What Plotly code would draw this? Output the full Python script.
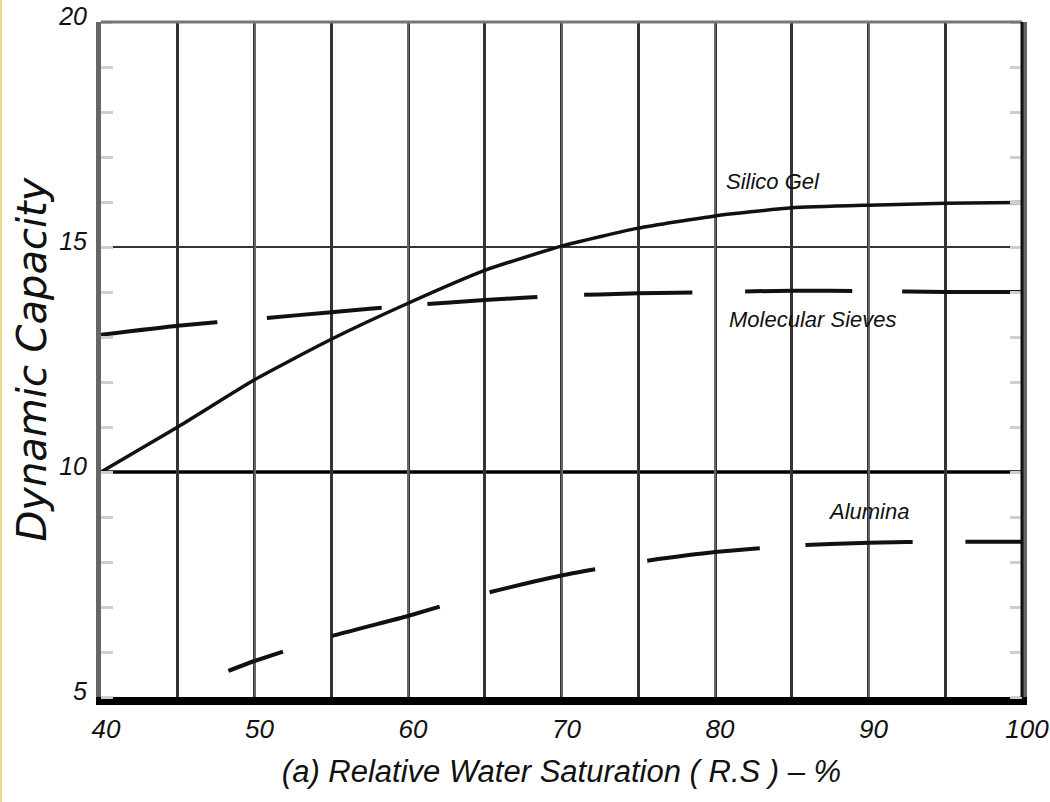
import plotly.graph_objects as go

# Relative water saturation (%) and dynamic capacity of three desiccants
silica_x = [40, 45, 50, 55, 60, 65, 70, 75, 80, 85, 90, 95, 100]
silica_y = [10.0, 11.0, 12.05, 12.95, 13.75, 14.48, 15.02, 15.42, 15.69, 15.87, 15.93, 15.97, 15.99]

sieve_x = [40, 45, 50, 55, 60, 65, 70, 75, 80, 85, 90, 95, 100]
sieve_y = [13.05, 13.25, 13.4, 13.55, 13.7, 13.82, 13.92, 13.97, 14.0, 14.03, 14.02, 14.0, 14.0]

alumina_x = [48.3, 50, 55, 60, 65, 70, 75, 80, 85, 90, 95, 100]
alumina_y = [5.58, 5.8, 6.35, 6.8, 7.3, 7.7, 8.0, 8.22, 8.36, 8.43, 8.45, 8.45]

x_ticks = [40, 50, 60, 70, 80, 90, 100]
y_ticks = [5, 10, 15, 20]

FONT = "Liberation Sans, Arial, sans-serif"
TITLE_FONT = "DejaVu Sans, Liberation Sans, sans-serif"
W, H = 1050, 802
ML, MR, MT, MB = 101, 28, 22, 105
PLOT_W = W - ML - MR
PX_PER_X = PLOT_W / 60

fig = go.Figure()

fig.add_trace(go.Scatter(x=silica_x, y=silica_y, mode="lines", name="Silico Gel",
                         line=dict(color="#111", width=3.5, shape="spline", smoothing=0.5)))
fig.add_trace(go.Scatter(x=sieve_x, y=sieve_y, mode="lines", name="Molecular Sieves",
                         line=dict(color="#111", width=4, shape="spline", smoothing=0.5,
                                   dash="117px,50px,115px,46px,110px,47px,108px,53px,107px,50px,130px")))
fig.add_trace(go.Scatter(x=alumina_x, y=alumina_y, mode="lines", name="Alumina",
                         line=dict(color="#111", width=4, shape="spline", smoothing=0.5,
                                   dash="58px,51px,112px,52px,108px,53px,113px,46px,107px,53px,80px")))

labels = [("Silico Gel", 773, 16.46), ("Molecular Sieves", 813, 13.38), ("Alumina", 868, 9.13)]
for text, px, yv in labels:
    fig.add_annotation(x=40 + (px - ML) / PX_PER_X, y=yv, text=text, showarrow=False,
                       font=dict(family=FONT, size=22, color="#111", style="italic"))

# vertical axis title
fig.add_annotation(xref="paper", yref="paper", x=(31 - ML) / PLOT_W, y=0.5,
                   xanchor="center", yanchor="middle",
                   text="Dynamic Capacity", textangle=-90, showarrow=False,
                   font=dict(family=TITLE_FONT, size=40, color="#111", style="italic"))

# frame: top in gray, right in black, horizontal rules at 15 and 10
fig.add_shape(type="line", xref="paper", yref="paper", x0=0, x1=1, y0=1, y1=1,
              line=dict(color="#777", width=3))
fig.add_shape(type="line", xref="paper", yref="paper", x0=1, x1=1, y0=0, y1=1,
              line=dict(color="#111", width=3))
fig.add_shape(type="line", xref="paper", yref="y", x0=0, x1=1, y0=15, y1=15,
              line=dict(color="#333", width=2), layer="below")
fig.add_shape(type="line", xref="paper", yref="y", x0=0, x1=1, y0=10, y1=10,
              line=dict(color="#000", width=3.5), layer="below")
# thin yellow edge on the left of the page
fig.add_shape(type="rect", xref="paper", yref="paper",
              x0=-ML / PLOT_W, x1=-(ML - 2) / PLOT_W,
              y0=-MB / (H - MT - MB), y1=1 + MT / (H - MT - MB),
              line=dict(width=0), fillcolor="#f3d58a")

fig.update_layout(
    width=W, height=H,
    margin=dict(l=ML, r=MR, t=MT, b=MB, autoexpand=False),
    paper_bgcolor="white", plot_bgcolor="white",
    showlegend=False,
    font=dict(family=FONT, color="#111"),
    xaxis=dict(
        range=[40, 100], tickvals=x_ticks, ticktext=[str(v) for v in x_ticks],
        automargin=False, ticklabeloverflow="allow",
        showgrid=True, gridcolor="#666", gridwidth=2,
        minor=dict(dtick=5, tick0=40, showgrid=True, gridcolor="#333", gridwidth=2.5),
        showline=True, linecolor="#000", linewidth=8,
        ticks="", zeroline=False, ticklabelstandoff=2, ticklabelshift=5,
        tickfont=dict(family=FONT, size=26, style="italic"),
        title=dict(text="(a) Relative Water Saturation ( R.S ) – %", standoff=20,
                   font=dict(family=FONT, size=31, style="italic")),
    ),
    yaxis=dict(
        range=[5, 20], tickvals=y_ticks, ticktext=[str(v) for v in y_ticks],
        automargin=False, ticklabeloverflow="allow",
        showgrid=False, zeroline=False,
        showline=True, linecolor="#666", linewidth=5, mirror="ticks",
        ticks="", ticklabelstandoff=4, ticklabelshift=-6,
        minor=dict(dtick=1, tick0=5, ticks="inside", ticklen=12, tickwidth=3, tickcolor="#cfcfcf",
                   showgrid=False),
        tickfont=dict(family=FONT, size=25, style="italic"),
    ),
)

fig.write_html("out.html")
